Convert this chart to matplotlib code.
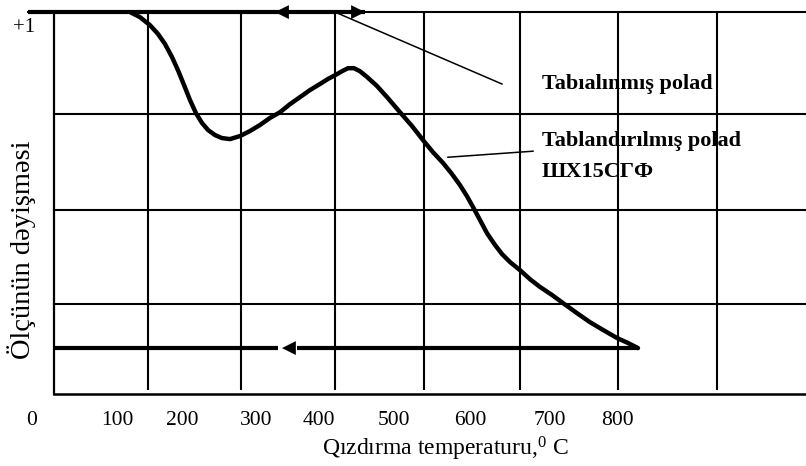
import matplotlib
matplotlib.use("Agg")
import matplotlib.pyplot as plt

# ---------------- data (temperature, relative size change) ----------------
curve_T = [117.3, 131.2, 145.2, 156.3, 166.1, 175.9, 184.2, 192.6, 201.0, 209.3,
           217.7, 226.1, 235.8, 245.6, 256.7, 270.7, 284.6, 298.6, 312.5, 326.5,
           340.4, 354.4, 368.3, 382.2, 393.4, 403.2, 412.9, 421.3, 429.7, 438.0,
           447.8, 461.7, 475.7, 493.8, 510.5, 525.9, 539.8, 553.8, 566.3, 577.5,
           587.2, 595.6, 605.4, 615.1, 626.3, 636.0, 647.2, 661.1, 675.1, 689.0,
           705.8, 721.1, 740.6, 758.8, 776.9, 796.4, 811.8, 825.7]
curve_y = [1.000, 0.985, 0.961, 0.935, 0.905, 0.866, 0.827, 0.783, 0.738, 0.699,
           0.670, 0.649, 0.634, 0.625, 0.622, 0.631, 0.646, 0.664, 0.685, 0.702,
           0.726, 0.747, 0.768, 0.786, 0.801, 0.812, 0.824, 0.833, 0.833, 0.824,
           0.807, 0.780, 0.747, 0.702, 0.661, 0.619, 0.583, 0.551, 0.518, 0.485,
           0.452, 0.420, 0.381, 0.342, 0.307, 0.280, 0.256, 0.232, 0.205, 0.182,
           0.158, 0.134, 0.104, 0.077, 0.054, 0.030, 0.015, 0.000]

tick_values = ["0", "100", "200", "300", "400", "500", "600", "700", "800"]
tick_pos = [-19.4, 99.2, 189.8, 293.0, 380.8, 485.4, 591.4, 703.0, 796.4]

grid_x = [142, 272, 403, 527, 661, 798, 936]
grid_y = [0.696, 0.411, 0.131]

heating_T = [-25, 445]        # thick top line (heating, y = +1)
cooling_T = [11.3, 323.7]     # thick bottom line, left part
cooling_T2 = [350, 825.7]     # thick bottom line, right part

label_annealed = "Tabıalınmış polad"
label_tempered = "Tablandırılmış polad"
label_steel = "ШХ15СГФ"
xlabel = r"Qızdırma temperaturu,$^{0}$ C"
ylabel = "Ölçünün dəyişməsi"

# ---------------- figure ----------------
plt.rcParams["mathtext.fontset"] = "custom"
plt.rcParams["mathtext.rm"] = "Liberation Serif"
plt.rcParams["mathtext.it"] = "Liberation Serif:italic"
plt.rcParams["mathtext.bf"] = "Liberation Serif:bold"
serif = ["Liberation Serif", "DejaVu Serif"]

fig = plt.figure(figsize=(8.06, 4.66), dpi=100)
ax = fig.add_axes([0, 0, 1, 1])
ax.set_xlim(-64, 1060)
ax.set_ylim(-0.351, 1.036)
ax.axis("off")

x_left, x_right = 11.3, 1060
y_bottom, y_gridbottom = -0.137, -0.125

# grid
for gx in grid_x:
    ax.plot([gx, gx], [1.0, y_gridbottom], color="black", lw=1.5, solid_capstyle="butt")
for gy in grid_y:
    ax.plot([x_left, x_right], [gy, gy], color="black", lw=1.5)
# axes lines
ax.plot([x_left, x_left], [1.0, y_bottom], color="black", lw=1.6)
ax.plot([x_left, x_right], [y_bottom, y_bottom], color="black", lw=1.8)
ax.plot([heating_T[0], x_right], [1.0, 1.0], color="black", lw=1.5)

# heating line with arrows
ax.plot(heating_T, [1.0, 1.0], color="black", lw=3.0, solid_capstyle="butt")
arrow = dict(arrowstyle="-|>,head_length=1.0,head_width=0.5", mutation_scale=10,
             color="black", lw=0, shrinkA=0, shrinkB=0)
ax.annotate("", xy=(319.5, 1.0), xytext=(345, 1.0), arrowprops=arrow)
ax.annotate("", xy=(445, 1.0), xytext=(420, 1.0), arrowprops=arrow)

# cooling line with arrow
ax.plot(cooling_T, [0, 0], color="black", lw=3.0, solid_capstyle="butt")
ax.plot(cooling_T2, [0, 0], color="black", lw=3.0, solid_capstyle="butt")
ax.annotate("", xy=(329.2, 0.0), xytext=(355, 0.0), arrowprops=arrow)

# the dilatometric curve
ax.plot(curve_T, curve_y, color="black", lw=3.2, solid_joinstyle="round",
        solid_capstyle="round")

# pointer lines
ax.plot([403.2, 636.0], [1.0, 0.786], color="black", lw=1.1)
ax.plot([560.7, 679.3], [0.568, 0.586], color="black", lw=1.1)

# labels
for txt, yy in [(label_annealed, 0.786), (label_tempered, 0.616), (label_steel, 0.524)]:
    ax.text(691.8, yy, txt, family=serif, fontweight="bold", fontsize=16,
            ha="left", va="center")

for lab, pos in zip(tick_values, tick_pos):
    ax.text(pos, -0.217, lab, family=serif, fontsize=15.5, ha="center", va="center")

ax.text(556.6, -0.30, xlabel, family=serif, fontsize=17, ha="center", va="center")
ax.text(-34.0, 0.292, ylabel, family=serif, fontsize=20.5, ha="center", va="center",
        rotation=90)
ax.text(-30.5, 0.955, "+1", family=serif, fontsize=15, ha="center", va="center")

fig.savefig("out.png", dpi=100)
